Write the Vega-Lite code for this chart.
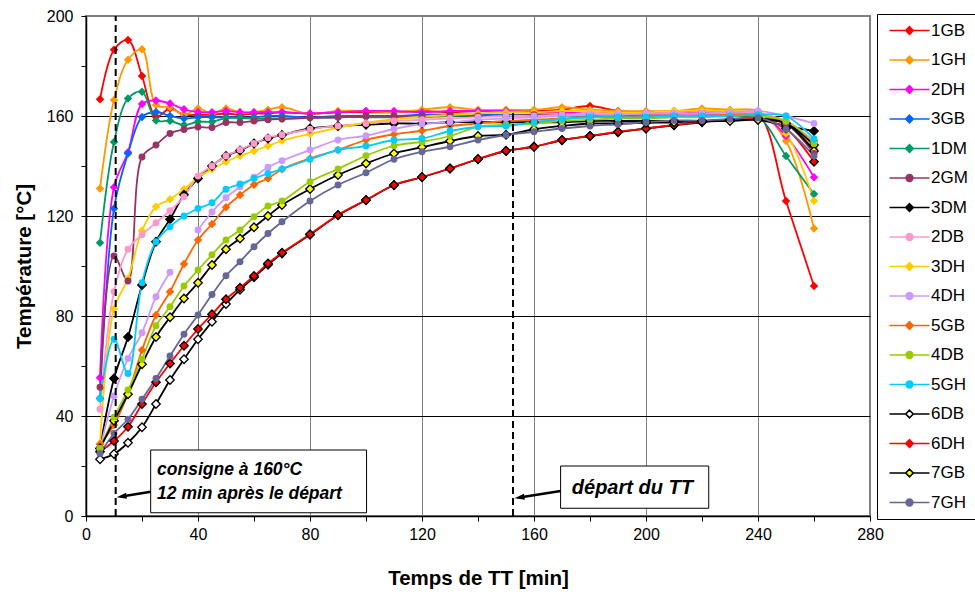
{
"$schema":"https://vega.github.io/schema/vega-lite/v6.json",
"width":784,"height":500,
"autosize":{"type":"none"},
"padding":{"left":86,"top":16,"right":105,"bottom":78},
"background":"white",
"config":{"view":{"stroke":"#808080","strokeWidth":2},"font":"Liberation Sans"},
"datasets":{
"series":[
{"s":"1GB","t":5,"v":166.7},{"s":"1GB","t":10,"v":186.5},{"s":"1GB","t":15,"v":190.4},{"s":"1GB","t":20,"v":176},{"s":"1GB","t":25,"v":159.7},{"s":"1GB","t":30,"v":163},{"s":"1GB","t":35,"v":160.5},{"s":"1GB","t":40,"v":160.5},{"s":"1GB","t":45,"v":160.5},{"s":"1GB","t":50,"v":161},{"s":"1GB","t":55,"v":160.5},{"s":"1GB","t":60,"v":161},{"s":"1GB","t":65,"v":161},{"s":"1GB","t":70,"v":161.5},{"s":"1GB","t":80,"v":161},{"s":"1GB","t":90,"v":161.5},{"s":"1GB","t":100,"v":161.5},{"s":"1GB","t":110,"v":161.5},{"s":"1GB","t":120,"v":162},{"s":"1GB","t":130,"v":161.5},{"s":"1GB","t":140,"v":162},{"s":"1GB","t":150,"v":162},{"s":"1GB","t":160,"v":162},{"s":"1GB","t":170,"v":162.5},{"s":"1GB","t":180,"v":164},{"s":"1GB","t":190,"v":162},{"s":"1GB","t":200,"v":161.5},{"s":"1GB","t":210,"v":162},{"s":"1GB","t":220,"v":162},{"s":"1GB","t":230,"v":162},{"s":"1GB","t":240,"v":161},{"s":"1GB","t":250,"v":126},{"s":"1GB","t":260,"v":92},
{"s":"1GH","t":5,"v":131},{"s":"1GH","t":10,"v":166.4},{"s":"1GH","t":15,"v":182.5},{"s":"1GH","t":20,"v":186.7},{"s":"1GH","t":25,"v":164.4},{"s":"1GH","t":30,"v":163.5},{"s":"1GH","t":35,"v":160.5},{"s":"1GH","t":40,"v":163},{"s":"1GH","t":45,"v":161},{"s":"1GH","t":50,"v":163},{"s":"1GH","t":55,"v":161.5},{"s":"1GH","t":60,"v":161.5},{"s":"1GH","t":65,"v":162.5},{"s":"1GH","t":70,"v":163.5},{"s":"1GH","t":80,"v":160.8},{"s":"1GH","t":90,"v":162},{"s":"1GH","t":100,"v":162},{"s":"1GH","t":110,"v":161.5},{"s":"1GH","t":120,"v":162.5},{"s":"1GH","t":130,"v":163.5},{"s":"1GH","t":140,"v":162.5},{"s":"1GH","t":150,"v":162.5},{"s":"1GH","t":160,"v":162.5},{"s":"1GH","t":170,"v":163.5},{"s":"1GH","t":180,"v":162.5},{"s":"1GH","t":190,"v":162},{"s":"1GH","t":200,"v":162},{"s":"1GH","t":210,"v":162},{"s":"1GH","t":220,"v":163},{"s":"1GH","t":230,"v":162.5},{"s":"1GH","t":240,"v":162},{"s":"1GH","t":250,"v":150},{"s":"1GH","t":260,"v":115},
{"s":"2DH","t":5,"v":55.3},{"s":"2DH","t":10,"v":131.5},{"s":"2DH","t":15,"v":145.5},{"s":"2DH","t":20,"v":164.8},{"s":"2DH","t":25,"v":166.2},{"s":"2DH","t":30,"v":165},{"s":"2DH","t":35,"v":162.7},{"s":"2DH","t":40,"v":161.6},{"s":"2DH","t":45,"v":161.5},{"s":"2DH","t":50,"v":162},{"s":"2DH","t":55,"v":161.5},{"s":"2DH","t":60,"v":161.5},{"s":"2DH","t":65,"v":161.5},{"s":"2DH","t":70,"v":161.5},{"s":"2DH","t":80,"v":161},{"s":"2DH","t":90,"v":161.5},{"s":"2DH","t":100,"v":162},{"s":"2DH","t":110,"v":162},{"s":"2DH","t":120,"v":161.5},{"s":"2DH","t":130,"v":162},{"s":"2DH","t":140,"v":162},{"s":"2DH","t":150,"v":162},{"s":"2DH","t":160,"v":161.5},{"s":"2DH","t":170,"v":161.5},{"s":"2DH","t":180,"v":161},{"s":"2DH","t":190,"v":161.5},{"s":"2DH","t":200,"v":161.5},{"s":"2DH","t":210,"v":161},{"s":"2DH","t":220,"v":161.5},{"s":"2DH","t":230,"v":161.5},{"s":"2DH","t":240,"v":161.5},{"s":"2DH","t":250,"v":152},{"s":"2DH","t":260,"v":135.5},
{"s":"3GB","t":5,"v":47},{"s":"3GB","t":10,"v":123},{"s":"3GB","t":15,"v":145},{"s":"3GB","t":20,"v":159.6},{"s":"3GB","t":25,"v":161.6},{"s":"3GB","t":30,"v":160},{"s":"3GB","t":35,"v":159},{"s":"3GB","t":40,"v":159.5},{"s":"3GB","t":45,"v":159.5},{"s":"3GB","t":50,"v":159.5},{"s":"3GB","t":55,"v":159.5},{"s":"3GB","t":60,"v":159.5},{"s":"3GB","t":65,"v":160},{"s":"3GB","t":70,"v":160},{"s":"3GB","t":80,"v":159.5},{"s":"3GB","t":90,"v":160},{"s":"3GB","t":100,"v":160},{"s":"3GB","t":110,"v":160},{"s":"3GB","t":120,"v":160.5},{"s":"3GB","t":130,"v":160.5},{"s":"3GB","t":140,"v":160.5},{"s":"3GB","t":150,"v":160.5},{"s":"3GB","t":160,"v":160.5},{"s":"3GB","t":170,"v":160.5},{"s":"3GB","t":180,"v":160.5},{"s":"3GB","t":190,"v":160.5},{"s":"3GB","t":200,"v":160.5},{"s":"3GB","t":210,"v":160.5},{"s":"3GB","t":220,"v":160.5},{"s":"3GB","t":230,"v":160.5},{"s":"3GB","t":240,"v":160.5},{"s":"3GB","t":250,"v":157},{"s":"3GB","t":260,"v":150},
{"s":"1DM","t":5,"v":109.3},{"s":"1DM","t":10,"v":149.6},{"s":"1DM","t":15,"v":167},{"s":"1DM","t":20,"v":169.7},{"s":"1DM","t":25,"v":158.2},{"s":"1DM","t":30,"v":158.1},{"s":"1DM","t":35,"v":156.4},{"s":"1DM","t":40,"v":157.7},{"s":"1DM","t":45,"v":157.7},{"s":"1DM","t":50,"v":159.2},{"s":"1DM","t":55,"v":159.2},{"s":"1DM","t":60,"v":159},{"s":"1DM","t":65,"v":159},{"s":"1DM","t":70,"v":159},{"s":"1DM","t":80,"v":159.2},{"s":"1DM","t":90,"v":159.5},{"s":"1DM","t":100,"v":159.5},{"s":"1DM","t":110,"v":159.5},{"s":"1DM","t":120,"v":159.5},{"s":"1DM","t":130,"v":160},{"s":"1DM","t":140,"v":160},{"s":"1DM","t":150,"v":160},{"s":"1DM","t":160,"v":160},{"s":"1DM","t":170,"v":160},{"s":"1DM","t":180,"v":160},{"s":"1DM","t":190,"v":160},{"s":"1DM","t":200,"v":160},{"s":"1DM","t":210,"v":160},{"s":"1DM","t":220,"v":160},{"s":"1DM","t":230,"v":160},{"s":"1DM","t":240,"v":159.5},{"s":"1DM","t":250,"v":144},{"s":"1DM","t":260,"v":128.8},
{"s":"2GM","t":5,"v":51.5},{"s":"2GM","t":10,"v":104},{"s":"2GM","t":15,"v":94},{"s":"2GM","t":20,"v":143.6},{"s":"2GM","t":25,"v":148.4},{"s":"2GM","t":30,"v":153},{"s":"2GM","t":35,"v":154.6},{"s":"2GM","t":40,"v":155.6},{"s":"2GM","t":45,"v":155.4},{"s":"2GM","t":50,"v":157.4},{"s":"2GM","t":55,"v":157.4},{"s":"2GM","t":60,"v":158},{"s":"2GM","t":65,"v":158.5},{"s":"2GM","t":70,"v":158.8},{"s":"2GM","t":80,"v":159.3},{"s":"2GM","t":90,"v":159.5},{"s":"2GM","t":100,"v":160},{"s":"2GM","t":110,"v":160},{"s":"2GM","t":120,"v":160},{"s":"2GM","t":130,"v":160.5},{"s":"2GM","t":140,"v":160},{"s":"2GM","t":150,"v":160},{"s":"2GM","t":160,"v":160.5},{"s":"2GM","t":170,"v":160.5},{"s":"2GM","t":180,"v":160.5},{"s":"2GM","t":190,"v":160.5},{"s":"2GM","t":200,"v":160.5},{"s":"2GM","t":210,"v":160.5},{"s":"2GM","t":220,"v":161},{"s":"2GM","t":230,"v":161},{"s":"2GM","t":240,"v":161},{"s":"2GM","t":250,"v":157},{"s":"2GM","t":260,"v":145},
{"s":"3DM","t":5,"v":27},{"s":"3DM","t":10,"v":55},{"s":"3DM","t":15,"v":71.6},{"s":"3DM","t":20,"v":92.4},{"s":"3DM","t":25,"v":109.7},{"s":"3DM","t":30,"v":118.7},{"s":"3DM","t":35,"v":128.5},{"s":"3DM","t":40,"v":135},{"s":"3DM","t":45,"v":140},{"s":"3DM","t":50,"v":144},{"s":"3DM","t":55,"v":146.2},{"s":"3DM","t":60,"v":149},{"s":"3DM","t":65,"v":151},{"s":"3DM","t":70,"v":152.4},{"s":"3DM","t":80,"v":155},{"s":"3DM","t":90,"v":156},{"s":"3DM","t":100,"v":156.5},{"s":"3DM","t":110,"v":157},{"s":"3DM","t":120,"v":157},{"s":"3DM","t":130,"v":157.5},{"s":"3DM","t":140,"v":157.5},{"s":"3DM","t":150,"v":157.5},{"s":"3DM","t":160,"v":157.5},{"s":"3DM","t":170,"v":157.5},{"s":"3DM","t":180,"v":158},{"s":"3DM","t":190,"v":158},{"s":"3DM","t":200,"v":158},{"s":"3DM","t":210,"v":158},{"s":"3DM","t":220,"v":158},{"s":"3DM","t":230,"v":158.5},{"s":"3DM","t":240,"v":158.5},{"s":"3DM","t":250,"v":156},{"s":"3DM","t":260,"v":154},
{"s":"2DB","t":5,"v":42.7},{"s":"2DB","t":10,"v":89.7},{"s":"2DB","t":15,"v":106.7},{"s":"2DB","t":20,"v":112.5},{"s":"2DB","t":25,"v":117.3},{"s":"2DB","t":30,"v":122.1},{"s":"2DB","t":35,"v":127.7},{"s":"2DB","t":40,"v":136},{"s":"2DB","t":45,"v":140},{"s":"2DB","t":50,"v":144},{"s":"2DB","t":55,"v":146.5},{"s":"2DB","t":60,"v":149},{"s":"2DB","t":65,"v":151.3},{"s":"2DB","t":70,"v":152.5},{"s":"2DB","t":80,"v":154.7},{"s":"2DB","t":90,"v":156},{"s":"2DB","t":100,"v":157},{"s":"2DB","t":110,"v":158},{"s":"2DB","t":120,"v":158.5},{"s":"2DB","t":130,"v":159},{"s":"2DB","t":140,"v":159.5},{"s":"2DB","t":150,"v":160},{"s":"2DB","t":160,"v":160},{"s":"2DB","t":170,"v":160.5},{"s":"2DB","t":180,"v":161},{"s":"2DB","t":190,"v":161},{"s":"2DB","t":200,"v":161},{"s":"2DB","t":210,"v":161},{"s":"2DB","t":220,"v":161},{"s":"2DB","t":230,"v":161},{"s":"2DB","t":240,"v":161},{"s":"2DB","t":250,"v":158},{"s":"2DB","t":260,"v":150},
{"s":"3DH","t":5,"v":29},{"s":"3DH","t":10,"v":82.8},{"s":"3DH","t":15,"v":95},{"s":"3DH","t":20,"v":114.1},{"s":"3DH","t":25,"v":123.7},{"s":"3DH","t":30,"v":126.7},{"s":"3DH","t":35,"v":130.7},{"s":"3DH","t":40,"v":135.5},{"s":"3DH","t":45,"v":138.7},{"s":"3DH","t":50,"v":141.7},{"s":"3DH","t":55,"v":144.1},{"s":"3DH","t":60,"v":146},{"s":"3DH","t":65,"v":148},{"s":"3DH","t":70,"v":150.1},{"s":"3DH","t":80,"v":152.8},{"s":"3DH","t":90,"v":155.3},{"s":"3DH","t":100,"v":157.3},{"s":"3DH","t":110,"v":158.7},{"s":"3DH","t":120,"v":159.7},{"s":"3DH","t":130,"v":160.4},{"s":"3DH","t":140,"v":161},{"s":"3DH","t":150,"v":161.5},{"s":"3DH","t":160,"v":161.5},{"s":"3DH","t":170,"v":162},{"s":"3DH","t":180,"v":162},{"s":"3DH","t":190,"v":161.5},{"s":"3DH","t":200,"v":161.5},{"s":"3DH","t":210,"v":162},{"s":"3DH","t":220,"v":162},{"s":"3DH","t":230,"v":162},{"s":"3DH","t":240,"v":161.5},{"s":"3DH","t":250,"v":153},{"s":"3DH","t":260,"v":126},
{"s":"4DH","t":5,"v":27},{"s":"4DH","t":10,"v":48},{"s":"4DH","t":15,"v":63},{"s":"4DH","t":20,"v":73.3},{"s":"4DH","t":25,"v":87.7},{"s":"4DH","t":30,"v":97.5},{"s":"4DH","t":35,"v":null},{"s":"4DH","t":40,"v":114.4},{"s":"4DH","t":45,"v":121.6},{"s":"4DH","t":50,"v":127.3},{"s":"4DH","t":55,"v":131.7},{"s":"4DH","t":60,"v":135.5},{"s":"4DH","t":65,"v":139.5},{"s":"4DH","t":70,"v":142.1},{"s":"4DH","t":80,"v":146.4},{"s":"4DH","t":90,"v":150.4},{"s":"4DH","t":100,"v":152.1},{"s":"4DH","t":110,"v":154.8},{"s":"4DH","t":120,"v":156.8},{"s":"4DH","t":130,"v":157.5},{"s":"4DH","t":140,"v":158.5},{"s":"4DH","t":150,"v":159},{"s":"4DH","t":160,"v":159.5},{"s":"4DH","t":170,"v":160},{"s":"4DH","t":180,"v":160.5},{"s":"4DH","t":190,"v":160.5},{"s":"4DH","t":200,"v":161},{"s":"4DH","t":210,"v":161},{"s":"4DH","t":220,"v":161},{"s":"4DH","t":230,"v":161.5},{"s":"4DH","t":240,"v":162},{"s":"4DH","t":250,"v":160},{"s":"4DH","t":260,"v":157},
{"s":"5GB","t":5,"v":28.7},{"s":"5GB","t":10,"v":36.4},{"s":"5GB","t":15,"v":49},{"s":"5GB","t":20,"v":66.4},{"s":"5GB","t":25,"v":80.4},{"s":"5GB","t":30,"v":89.7},{"s":"5GB","t":35,"v":100.8},{"s":"5GB","t":40,"v":110.4},{"s":"5GB","t":45,"v":116.8},{"s":"5GB","t":50,"v":123.5},{"s":"5GB","t":55,"v":128.4},{"s":"5GB","t":60,"v":132.5},{"s":"5GB","t":65,"v":135},{"s":"5GB","t":70,"v":138.7},{"s":"5GB","t":80,"v":143},{"s":"5GB","t":90,"v":146.4},{"s":"5GB","t":100,"v":150.4},{"s":"5GB","t":110,"v":152.7},{"s":"5GB","t":120,"v":154.1},{"s":"5GB","t":130,"v":156},{"s":"5GB","t":140,"v":157},{"s":"5GB","t":150,"v":158},{"s":"5GB","t":160,"v":158.5},{"s":"5GB","t":170,"v":159},{"s":"5GB","t":180,"v":159.5},{"s":"5GB","t":190,"v":159.5},{"s":"5GB","t":200,"v":160},{"s":"5GB","t":210,"v":160},{"s":"5GB","t":220,"v":160},{"s":"5GB","t":230,"v":160.5},{"s":"5GB","t":240,"v":160.5},{"s":"5GB","t":250,"v":157},{"s":"5GB","t":260,"v":147},
{"s":"4DB","t":5,"v":27},{"s":"4DB","t":10,"v":39.5},{"s":"4DB","t":15,"v":50.4},{"s":"4DB","t":20,"v":62.7},{"s":"4DB","t":25,"v":76.1},{"s":"4DB","t":30,"v":83.7},{"s":"4DB","t":35,"v":92},{"s":"4DB","t":40,"v":98.4},{"s":"4DB","t":45,"v":104.5},{"s":"4DB","t":50,"v":110.4},{"s":"4DB","t":55,"v":114.4},{"s":"4DB","t":60,"v":119.7},{"s":"4DB","t":65,"v":124},{"s":"4DB","t":70,"v":126},{"s":"4DB","t":80,"v":133.7},{"s":"4DB","t":90,"v":138.8},{"s":"4DB","t":100,"v":144.1},{"s":"4DB","t":110,"v":148.1},{"s":"4DB","t":120,"v":149.7},{"s":"4DB","t":130,"v":152},{"s":"4DB","t":140,"v":155.7},{"s":"4DB","t":150,"v":156.5},{"s":"4DB","t":160,"v":157},{"s":"4DB","t":170,"v":158},{"s":"4DB","t":180,"v":158.5},{"s":"4DB","t":190,"v":159},{"s":"4DB","t":200,"v":159},{"s":"4DB","t":210,"v":159.5},{"s":"4DB","t":220,"v":159.5},{"s":"4DB","t":230,"v":160},{"s":"4DB","t":240,"v":160},{"s":"4DB","t":250,"v":158},{"s":"4DB","t":260,"v":149},
{"s":"5GH","t":5,"v":47},{"s":"5GH","t":10,"v":70.7},{"s":"5GH","t":15,"v":57},{"s":"5GH","t":20,"v":93.3},{"s":"5GH","t":25,"v":109.7},{"s":"5GH","t":30,"v":115.7},{"s":"5GH","t":35,"v":120},{"s":"5GH","t":40,"v":123},{"s":"5GH","t":45,"v":125.3},{"s":"5GH","t":50,"v":130.7},{"s":"5GH","t":55,"v":132.8},{"s":"5GH","t":60,"v":135},{"s":"5GH","t":65,"v":137},{"s":"5GH","t":70,"v":138.8},{"s":"5GH","t":80,"v":142.7},{"s":"5GH","t":90,"v":146.4},{"s":"5GH","t":100,"v":148},{"s":"5GH","t":110,"v":150.4},{"s":"5GH","t":120,"v":151},{"s":"5GH","t":130,"v":154},{"s":"5GH","t":140,"v":155.7},{"s":"5GH","t":150,"v":156},{"s":"5GH","t":160,"v":157.5},{"s":"5GH","t":170,"v":158.7},{"s":"5GH","t":180,"v":159.5},{"s":"5GH","t":190,"v":159.5},{"s":"5GH","t":200,"v":159.5},{"s":"5GH","t":210,"v":160},{"s":"5GH","t":220,"v":160},{"s":"5GH","t":230,"v":160},{"s":"5GH","t":240,"v":160.5},{"s":"5GH","t":250,"v":160},{"s":"5GH","t":260,"v":150.8},
{"s":"6DB","t":5,"v":22.7},{"s":"6DB","t":10,"v":24.8},{"s":"6DB","t":15,"v":29.3},{"s":"6DB","t":20,"v":35.5},{"s":"6DB","t":25,"v":44.8},{"s":"6DB","t":30,"v":54.4},{"s":"6DB","t":35,"v":62.7},{"s":"6DB","t":40,"v":70.7},{"s":"6DB","t":45,"v":77.7},{"s":"6DB","t":50,"v":84.8},{"s":"6DB","t":55,"v":90.5},{"s":"6DB","t":60,"v":95.5},{"s":"6DB","t":65,"v":100.5},{"s":"6DB","t":70,"v":105},{"s":"6DB","t":80,"v":112.5},{"s":"6DB","t":90,"v":120.3},{"s":"6DB","t":100,"v":126.3},{"s":"6DB","t":110,"v":132.3},{"s":"6DB","t":120,"v":135.5},{"s":"6DB","t":130,"v":139},{"s":"6DB","t":140,"v":142.7},{"s":"6DB","t":150,"v":146},{"s":"6DB","t":160,"v":147.7},{"s":"6DB","t":170,"v":150.3},{"s":"6DB","t":180,"v":152},{"s":"6DB","t":190,"v":153.5},{"s":"6DB","t":200,"v":155},{"s":"6DB","t":210,"v":156.3},{"s":"6DB","t":220,"v":157.5},{"s":"6DB","t":230,"v":158.3},{"s":"6DB","t":240,"v":159},{"s":"6DB","t":250,"v":157},{"s":"6DB","t":260,"v":148.4},
{"s":"6DH","t":5,"v":25.7},{"s":"6DH","t":10,"v":30},{"s":"6DH","t":15,"v":35.7},{"s":"6DH","t":20,"v":44.8},{"s":"6DH","t":25,"v":53.5},{"s":"6DH","t":30,"v":61},{"s":"6DH","t":35,"v":68.1},{"s":"6DH","t":40,"v":74.8},{"s":"6DH","t":45,"v":80.7},{"s":"6DH","t":50,"v":86.7},{"s":"6DH","t":55,"v":91.3},{"s":"6DH","t":60,"v":96},{"s":"6DH","t":65,"v":101},{"s":"6DH","t":70,"v":105.3},{"s":"6DH","t":80,"v":112.7},{"s":"6DH","t":90,"v":120.4},{"s":"6DH","t":100,"v":126.4},{"s":"6DH","t":110,"v":132.4},{"s":"6DH","t":120,"v":135.6},{"s":"6DH","t":130,"v":139},{"s":"6DH","t":140,"v":142.8},{"s":"6DH","t":150,"v":146.1},{"s":"6DH","t":160,"v":147.7},{"s":"6DH","t":170,"v":150.4},{"s":"6DH","t":180,"v":152},{"s":"6DH","t":190,"v":153.7},{"s":"6DH","t":200,"v":155},{"s":"6DH","t":210,"v":156.4},{"s":"6DH","t":220,"v":157.7},{"s":"6DH","t":230,"v":158.4},{"s":"6DH","t":240,"v":159},{"s":"6DH","t":250,"v":155},{"s":"6DH","t":260,"v":141.7},
{"s":"7GB","t":5,"v":27},{"s":"7GB","t":10,"v":38.1},{"s":"7GB","t":15,"v":48.7},{"s":"7GB","t":20,"v":60.7},{"s":"7GB","t":25,"v":71.6},{"s":"7GB","t":30,"v":79.5},{"s":"7GB","t":35,"v":87},{"s":"7GB","t":40,"v":93.3},{"s":"7GB","t":45,"v":100.4},{"s":"7GB","t":50,"v":106.7},{"s":"7GB","t":55,"v":111},{"s":"7GB","t":60,"v":115.5},{"s":"7GB","t":65,"v":120},{"s":"7GB","t":70,"v":124.4},{"s":"7GB","t":80,"v":130.8},{"s":"7GB","t":90,"v":136.4},{"s":"7GB","t":100,"v":141},{"s":"7GB","t":110,"v":145},{"s":"7GB","t":120,"v":147.5},{"s":"7GB","t":130,"v":150},{"s":"7GB","t":140,"v":152},{"s":"7GB","t":150,"v":152.5},{"s":"7GB","t":160,"v":154.7},{"s":"7GB","t":170,"v":156},{"s":"7GB","t":180,"v":157},{"s":"7GB","t":190,"v":157},{"s":"7GB","t":200,"v":157.3},{"s":"7GB","t":210,"v":157.5},{"s":"7GB","t":220,"v":158},{"s":"7GB","t":230,"v":158},{"s":"7GB","t":240,"v":158.5},{"s":"7GB","t":250,"v":157},{"s":"7GB","t":260,"v":146},
{"s":"7GH","t":5,"v":25},{"s":"7GH","t":10,"v":33},{"s":"7GH","t":15,"v":38.7},{"s":"7GH","t":20,"v":46.7},{"s":"7GH","t":25,"v":55},{"s":"7GH","t":30,"v":64},{"s":"7GH","t":35,"v":72.7},{"s":"7GH","t":40,"v":80.4},{"s":"7GH","t":45,"v":88.6},{"s":"7GH","t":50,"v":96.1},{"s":"7GH","t":55,"v":101.7},{"s":"7GH","t":60,"v":107.7},{"s":"7GH","t":65,"v":113},{"s":"7GH","t":70,"v":117.7},{"s":"7GH","t":80,"v":126},{"s":"7GH","t":90,"v":132.4},{"s":"7GH","t":100,"v":137.3},{"s":"7GH","t":110,"v":142.7},{"s":"7GH","t":120,"v":145.7},{"s":"7GH","t":130,"v":147.7},{"s":"7GH","t":140,"v":150.4},{"s":"7GH","t":150,"v":152.4},{"s":"7GH","t":160,"v":153.7},{"s":"7GH","t":170,"v":155},{"s":"7GH","t":180,"v":156},{"s":"7GH","t":190,"v":156.7},{"s":"7GH","t":200,"v":157.5},{"s":"7GH","t":210,"v":158.2},{"s":"7GH","t":220,"v":158.2},{"s":"7GH","t":230,"v":158.8},{"s":"7GH","t":240,"v":159.3},{"s":"7GH","t":250,"v":154.7},{"s":"7GH","t":260,"v":144}
],
"dashes":[{"t":10.6,"v":0,"v2":200},{"t":152.5,"v":0,"v2":162}],
"boxes":[{"t":23.1,"t2":100.2,"v":1.3,"v2":26.4},{"t":169.5,"t2":222.4,"v":3.1,"v2":20}],
"arrows":[{"t":23.1,"v":9.7,"t2":12.7,"v2":7.8},{"t":169.5,"v":10,"t2":154.8,"v2":7.4}],
"heads":[{"t":12.7,"v":7.8},{"t":154.8,"v":7.4}],
"text1":[{"t":25.4,"v":16.4,"label":"consigne à 160°C"},{"t":25.4,"v":6.7,"label":"12 min après le départ"}],
"text2":[{"t":173.5,"v":8.8,"label":"départ du TT"}]
},
"layer":[
{"data":{"name":"series"},
 "transform":[{"filter":{"field":"t","equal":-1}}],
 "mark":{"type":"point","filled":true,"strokeWidth":1.6},
 "encoding":{
  "x":{"field":"t","type":"quantitative"},
  "y":{"field":"v","type":"quantitative"},
  "shape":{"field":"s","type":"nominal",
   "scale":{"domain":["1GB","1GH","2DH","3GB","1DM","2GM","3DM","2DB","3DH","4DH","5GB","4DB","5GH","6DB","6DH","7GB","7GH"],
    "range":["M-5,0H-0.95M0.95,0H5M0,-0.95L0.95,0L0,0.95L-0.95,0Z","M-5,0H-0.95M0.95,0H5M0,-0.95L0.95,0L0,0.95L-0.95,0Z","M-5,0H-0.95M0.95,0H5M0,-0.95L0.95,0L0,0.95L-0.95,0Z","M-5,0H-0.95M0.95,0H5M0,-0.95L0.95,0L0,0.95L-0.95,0Z","M-5,0H-0.95M0.95,0H5M0,-0.95L0.95,0L0,0.95L-0.95,0Z","M-5,0H-0.85M0.85,0H5M-0.85,0A0.85,0.85,0,1,0,0.85,0A0.85,0.85,0,1,0,-0.85,0Z","M-5,0H-0.95M0.95,0H5M0,-0.95L0.95,0L0,0.95L-0.95,0Z","M-5,0H-0.85M0.85,0H5M-0.85,0A0.85,0.85,0,1,0,0.85,0A0.85,0.85,0,1,0,-0.85,0Z","M-5,0H-0.95M0.95,0H5M0,-0.95L0.95,0L0,0.95L-0.95,0Z","M-5,0H-0.85M0.85,0H5M-0.85,0A0.85,0.85,0,1,0,0.85,0A0.85,0.85,0,1,0,-0.85,0Z","M-5,0H-0.95M0.95,0H5M0,-0.95L0.95,0L0,0.95L-0.95,0Z","M-5,0H-0.85M0.85,0H5M-0.85,0A0.85,0.85,0,1,0,0.85,0A0.85,0.85,0,1,0,-0.85,0Z","M-5,0H-0.85M0.85,0H5M-0.85,0A0.85,0.85,0,1,0,0.85,0A0.85,0.85,0,1,0,-0.85,0Z","M-5,0H-0.95M0.95,0H5M0,-0.95L0.95,0L0,0.95L-0.95,0Z","M-5,0H-0.95M0.95,0H5M0,-0.95L0.95,0L0,0.95L-0.95,0Z","M-5,0H-0.95M0.95,0H5M0,-0.95L0.95,0L0,0.95L-0.95,0Z","M-5,0H-0.85M0.85,0H5M-0.85,0A0.85,0.85,0,1,0,0.85,0A0.85,0.85,0,1,0,-0.85,0Z"]},
   "legend":{"orient":"none","legendX":791,"legendY":-2,"title":null,"direction":"vertical",
    "labelFont":"Liberation Sans","labelFontSize":17,"labelColor":"#000","labelExpr":"datum.label + '      '",
    "symbolSize":64,"symbolStrokeWidth":1.6,"symbolOpacity":1,"symbolOffset":16,"labelOffset":13,"padding":8,"rowPadding":11.5,
    "strokeColor":"#000","fillColor":"#fff"}},
  "fill":{"field":"s","type":"nominal",
   "scale":{"domain":["1GB","1GH","2DH","3GB","1DM","2GM","3DM","2DB","3DH","4DH","5GB","4DB","5GH","6DB","6DH","7GB","7GH"],
    "range":["#FF0000","#FF9900","#FF00FF","#0066FF","#009966","#993366","#000000","#FF99CC","#FFCC00","#CC99FF","#FF6600","#99CC00","#00CCFF","#FFFFFF","#FF0000","#FFFF00","#666699"]},
   "legend":{"orient":"none","legendX":791,"legendY":-2,"title":null,"direction":"vertical",
    "labelFont":"Liberation Sans","labelFontSize":17,"labelColor":"#000","labelExpr":"datum.label + '      '",
    "symbolSize":64,"symbolStrokeWidth":1.6,"symbolOpacity":1,"symbolOffset":16,"labelOffset":13,"padding":8,"rowPadding":11.5,
    "strokeColor":"#000","fillColor":"#fff"}},
  "stroke":{"field":"s","type":"nominal",
   "scale":{"domain":["1GB","1GH","2DH","3GB","1DM","2GM","3DM","2DB","3DH","4DH","5GB","4DB","5GH","6DB","6DH","7GB","7GH"],
    "range":["#FF0000","#FF9900","#FF00FF","#0066FF","#009966","#993366","#000000","#FF99CC","#FFCC00","#CC99FF","#FF6600","#99CC00","#00CCFF","#000000","#FF0000","#000000","#666699"]},
   "legend":{"orient":"none","legendX":791,"legendY":-2,"title":null,"direction":"vertical",
    "labelFont":"Liberation Sans","labelFontSize":17,"labelColor":"#000","labelExpr":"datum.label + '      '",
    "symbolSize":64,"symbolStrokeWidth":1.6,"symbolOpacity":1,"symbolOffset":16,"labelOffset":13,"padding":8,"rowPadding":11.5,
    "strokeColor":"#000","fillColor":"#fff"}}
 }},
{"data":{"name":"series"},
 "mark":{"type":"line","interpolate":"catmull-rom","strokeWidth":1.8,"invalid":"break-paths-show-domains"},
 "encoding":{
  "x":{"field":"t","type":"quantitative","scale":{"domain":[0,280],"nice":false,"zero":false},
   "axis":{"title":"Temps de TT [min]","values":[0,20,40,60,80,100,120,140,160,180,200,220,240,260,280],
    "labelExpr":"datum.value % 40 == 0 ? datum.label : ''","labelFlush":false,"labelOverlap":false,
    "grid":true,"gridColor":"#7f7f7f","gridWidth":1,
    "gridOpacity":{"condition":{"test":"datum.value % 40 == 0 && datum.value > 0 && datum.value < 280","value":1},"value":0},
    "domainColor":"#000","domainWidth":1.5,"tickColor":"#000","tickSize":5,"tickWidth":1,
    "labelFont":"Liberation Sans","labelFontSize":16,"labelColor":"#000","labelPadding":5,
    "titleFont":"Liberation Sans","titleFontSize":20.5,"titleFontWeight":"bold","titleColor":"#000","titlePadding":26}},
  "y":{"field":"v","type":"quantitative","scale":{"domain":[0,200],"nice":false,"zero":false},
   "axis":{"title":"Température [°C]","values":[0,10,20,30,40,50,60,70,80,90,100,110,120,130,140,150,160,170,180,190,200],
    "labelExpr":"datum.value % 40 == 0 ? datum.label : ''","labelFlush":false,"labelOverlap":false,
    "grid":true,"gridColor":"#000","gridWidth":1,
    "gridOpacity":{"condition":{"test":"datum.value % 40 == 0 && datum.value > 0 && datum.value < 200","value":1},"value":0},
    "domainColor":"#000","domainWidth":1.5,"tickColor":"#000","tickSize":5,"tickWidth":1,
    "labelFont":"Liberation Sans","labelFontSize":16,"labelColor":"#000","labelPadding":8,
    "titleFont":"Liberation Sans","titleFontSize":20.5,"titleFontWeight":"bold","titleColor":"#000","titlePadding":12}},
  "color":{"field":"s","type":"nominal","legend":null,
   "scale":{"domain":["1GB","1GH","2DH","3GB","1DM","2GM","3DM","2DB","3DH","4DH","5GB","4DB","5GH","6DB","6DH","7GB","7GH"],
    "range":["#FF0000","#FF9900","#FF00FF","#0066FF","#009966","#993366","#000000","#FF99CC","#FFCC00","#CC99FF","#FF6600","#99CC00","#00CCFF","#000000","#FF0000","#000000","#666699"]}}
 }},
{"data":{"name":"series"},
 "transform":[{"filter":{"field":"s","oneOf":["1GB","1GH","2DH","3GB","1DM","3DH","5GB"]}}],
 "mark":{"type":"point","shape":"diamond","filled":true,"size":72,"strokeWidth":0,"opacity":1},
 "encoding":{
  "x":{"field":"t","type":"quantitative"},
  "y":{"field":"v","type":"quantitative"},
  "fill":{"field":"s","type":"nominal"}
 }},
{"data":{"name":"series"},
 "transform":[{"filter":{"field":"s","oneOf":["3DM","6DB","6DH","7GB"]}}],
 "mark":{"type":"point","shape":"diamond","filled":true,"size":72,"stroke":"#000","strokeWidth":1.3,"opacity":1},
 "encoding":{
  "x":{"field":"t","type":"quantitative"},
  "y":{"field":"v","type":"quantitative"},
  "fill":{"field":"s","type":"nominal"}
 }},
{"data":{"name":"series"},
 "transform":[{"filter":{"field":"s","oneOf":["2GM","2DB","4DH","4DB","5GH","7GH"]}}],
 "mark":{"type":"point","shape":"circle","filled":true,"size":48,"strokeWidth":0,"opacity":1},
 "encoding":{
  "x":{"field":"t","type":"quantitative"},
  "y":{"field":"v","type":"quantitative"},
  "fill":{"field":"s","type":"nominal"}
 }},
{"data":{"name":"dashes"},
 "mark":{"type":"rule","color":"#000","strokeWidth":2,"strokeDash":[7,4]},
 "encoding":{"x":{"field":"t","type":"quantitative"},"y":{"field":"v","type":"quantitative"},"y2":{"field":"v2"}}},
{"data":{"name":"boxes"},
 "mark":{"type":"rect","fill":"#fff","stroke":"#000","strokeWidth":1},
 "encoding":{"x":{"field":"t","type":"quantitative"},"x2":{"field":"t2"},"y":{"field":"v","type":"quantitative"},"y2":{"field":"v2"}}},
{"data":{"name":"arrows"},
 "mark":{"type":"rule","color":"#000","strokeWidth":2.5},
 "encoding":{"x":{"field":"t","type":"quantitative"},"x2":{"field":"t2"},"y":{"field":"v","type":"quantitative"},"y2":{"field":"v2"}}},
{"data":{"name":"heads"},
 "mark":{"type":"point","shape":"M-1,0L1,-0.6L1,0.6Z","filled":true,"color":"#000","size":100,"angle":351,"opacity":1},
 "encoding":{"x":{"field":"t","type":"quantitative"},"y":{"field":"v","type":"quantitative"}}},
{"data":{"name":"text1"},
 "mark":{"type":"text","align":"left","baseline":"alphabetic","font":"Liberation Sans","fontSize":17.5,"fontWeight":"bold","fontStyle":"italic","color":"#000"},
 "encoding":{"x":{"field":"t","type":"quantitative"},"y":{"field":"v","type":"quantitative"},"text":{"field":"label"}}},
{"data":{"name":"text2"},
 "mark":{"type":"text","align":"left","baseline":"alphabetic","font":"Liberation Sans","fontSize":20,"fontWeight":"bold","fontStyle":"italic","color":"#000"},
 "encoding":{"x":{"field":"t","type":"quantitative"},"y":{"field":"v","type":"quantitative"},"text":{"field":"label"}}}
]
}
